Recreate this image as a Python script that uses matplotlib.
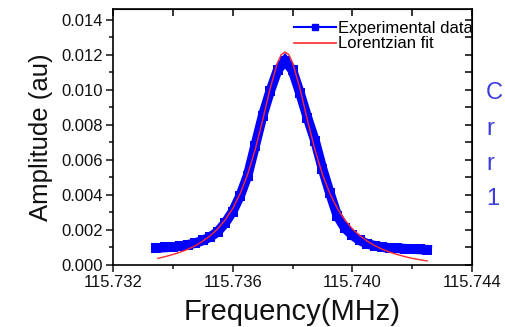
import matplotlib
matplotlib.use("Agg")
import matplotlib.pyplot as plt
from matplotlib.ticker import MultipleLocator, FormatStrFormatter
from matplotlib.lines import Line2D

plt.rcParams['font.family'] = ['Liberation Sans', 'DejaVu Sans']

freq_data = [115.73345, 115.73375, 115.7340, 115.73425, 115.7345, 115.73475, 115.7350,
             115.73525, 115.7355, 115.73575, 115.7360, 115.73625, 115.7365, 115.73675,
             115.7370, 115.73725, 115.7375, 115.73775, 115.7380, 115.73825, 115.7385,
             115.73875, 115.7390, 115.73925, 115.7395, 115.73975, 115.7400, 115.74025,
             115.7405, 115.74075, 115.7410, 115.74125, 115.7415, 115.74175, 115.7420,
             115.74225, 115.7425]
amp_data = [0.00097, 0.00100, 0.00103, 0.00108, 0.00115, 0.00125, 0.00140,
            0.00160, 0.00190, 0.00240, 0.00305, 0.00395, 0.00510, 0.00680,
            0.00850, 0.00990, 0.01110, 0.01165, 0.01110, 0.00980, 0.00840,
            0.00710, 0.00550, 0.00410, 0.00280, 0.00210, 0.00170, 0.00140,
            0.00120, 0.00110, 0.00102, 0.00097, 0.00095, 0.00093, 0.00091,
            0.00089, 0.00087]

# Lorentzian fit curve
freq_fit = [115.7335, 115.73375, 115.7340, 115.73425, 115.7345, 115.73475, 115.7350,
            115.73525, 115.7355, 115.73575, 115.7360, 115.73625, 115.7365, 115.73675,
            115.7370, 115.73725, 115.7375, 115.737625, 115.73775, 115.737875, 115.7380,
            115.73825, 115.7385, 115.73875, 115.7390, 115.73925, 115.7395, 115.73975,
            115.7400, 115.74025, 115.7405, 115.74075, 115.7410, 115.74125, 115.7415,
            115.74175, 115.7420, 115.74225, 115.7425]
amp_fit = [0.00038, 0.00048, 0.00060, 0.00073, 0.00090, 0.00110, 0.00136,
           0.00167, 0.00206, 0.00257, 0.00322, 0.00407, 0.00517, 0.00657,
           0.00825, 0.01006, 0.01155, 0.01200, 0.01215, 0.01200, 0.01155,
           0.01006, 0.00825, 0.00657, 0.00517, 0.00407, 0.00322, 0.00257,
           0.00206, 0.00167, 0.00136, 0.00110, 0.00090, 0.00073, 0.00060,
           0.00048, 0.00038, 0.00030, 0.00023]

series_labels = ['Experimental data', 'Lorentzian fit']
side_letters = ["C", "r", "r", "1"]

fig = plt.figure(figsize=(5.05, 3.27), dpi=100)
ax = fig.add_axes([0.2238, 0.1896, 0.7109, 0.7829])

ax.plot(freq_data, amp_data, color='#0000ff', lw=7, marker='s', ms=7.5,
        markeredgewidth=0, solid_joinstyle='miter')
ax.plot(freq_fit, amp_fit, color='#ff2a2a', lw=1.0)

ax.set_xlim(115.732, 115.744)
ax.set_ylim(0.0, 0.0146)
ax.xaxis.set_major_locator(MultipleLocator(0.004))
ax.xaxis.set_minor_locator(MultipleLocator(0.002))
ax.yaxis.set_major_locator(MultipleLocator(0.002))
ax.yaxis.set_minor_locator(MultipleLocator(0.001))
ax.xaxis.set_major_formatter(FormatStrFormatter('%.3f'))
ax.yaxis.set_major_formatter(FormatStrFormatter('%.3f'))

for s in ax.spines.values():
    s.set_linewidth(1.2)

ax.tick_params(which='both', direction='out', top=False, right=False,
               labelsize=12, width=1.1, colors='#111111')
ax.tick_params(which='major', length=5, pad=2)
ax.tick_params(which='minor', length=3)

# mirrored inward ticks on top/right
axt = ax.secondary_xaxis('top')
axt.xaxis.set_major_locator(MultipleLocator(0.002))
axt.tick_params(direction='in', length=5, width=1.1, labeltop=False)
axt.set_xticklabels([])
axr = ax.secondary_yaxis('right')
axr.yaxis.set_major_locator(MultipleLocator(0.001))
axr.tick_params(direction='in', length=5, width=1.1, labelright=False)
axr.set_yticklabels([])

ax.set_xlabel('Frequency(MHz)', fontsize=21, labelpad=6, color='#111111')
ax.set_ylabel('Amplitude (au)', fontsize=18.5, labelpad=6, color='#111111')

handles = [Line2D([], [], color='#0000ff', lw=1.5, marker='s', ms=5),
           Line2D([], [], color='#ff2a2a', lw=1.2)]
leg = ax.legend(handles, series_labels, loc='upper left',
                bbox_to_anchor=(0.505, 0.955), frameon=False,
                fontsize=12, handlelength=2.5, handletextpad=0.1,
                labelspacing=0.05, borderaxespad=0, borderpad=0)

ys = [93, 129, 164, 199]
for t, yp in zip(side_letters, ys):
    fig.text(486 / 505, 1 - yp / 327, t, fontsize=17, color='#3c3cdc',
             va='center', ha='left')

fig.savefig('out.png', dpi=100)
